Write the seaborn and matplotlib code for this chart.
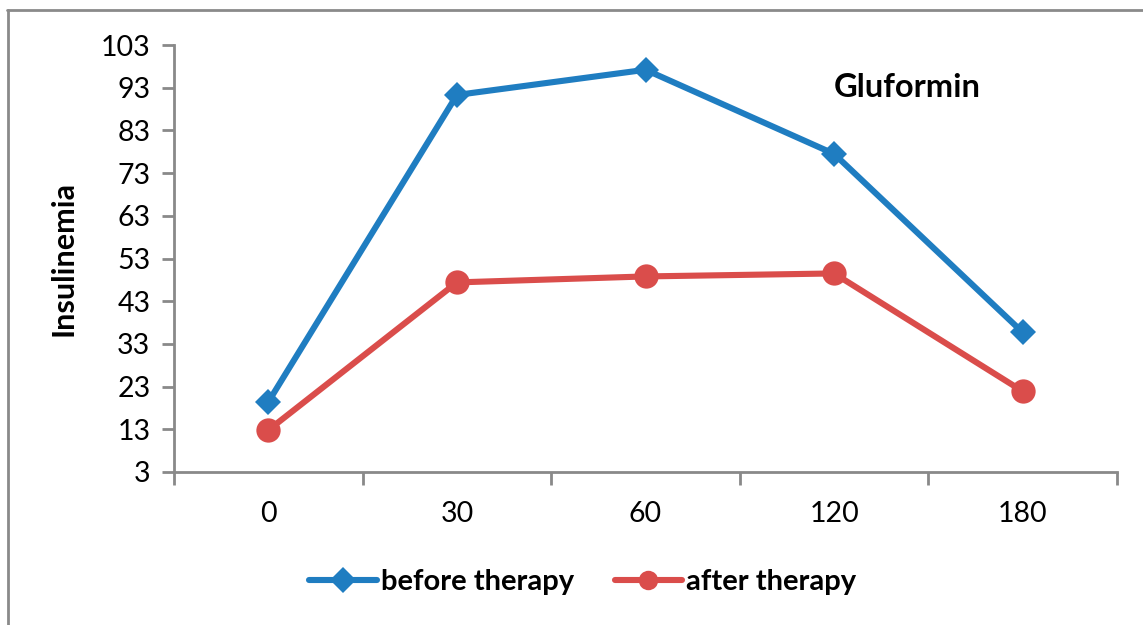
import matplotlib
matplotlib.use("Agg")
import matplotlib.pyplot as plt
from matplotlib.lines import Line2D
import seaborn as sns
import pandas as pd

times = ["0", "30", "60", "120", "180"]
before = [19.4, 91.3, 97.2, 77.5, 35.7]
after = [12.8, 47.4, 48.8, 49.5, 21.9]
series_names = ["before therapy", "after therapy"]
colors = ["#1F7DC1", "#DA4D4B"]
yticks = [3, 13, 23, 33, 43, 53, 63, 73, 83, 93, 103]

df = pd.DataFrame({
    "time": times * 2,
    "value": before + after,
    "series": [series_names[0]] * len(times) + [series_names[1]] * len(times),
})

sns.set_style("white")
plt.rcParams["font.family"] = ["Lato", "DejaVu Sans"]
plt.rcParams["text.color"] = "black"
plt.rcParams["axes.labelcolor"] = "black"
plt.rcParams["xtick.labelcolor"] = "black"
plt.rcParams["ytick.labelcolor"] = "black"
plt.rcParams["xtick.bottom"] = True
plt.rcParams["ytick.left"] = True

fig = plt.figure(figsize=(11.43, 6.25), dpi=100)
ax = fig.add_axes([174 / 1143, 1 - 472 / 625, (1117 - 174) / 1143, (472 - 45) / 625])

sns.pointplot(data=df, x="time", y="value", hue="series", order=times,
              hue_order=series_names, palette=colors, markers=["D", "o"],
              linestyles=["-", "-"], errorbar=None, ax=ax, legend=False)

lw = 4.4
msizes = [13.5, 17.5]
for line in ax.lines:
    line.set_linewidth(lw)
    line.set_markeredgewidth(0)
    line.set_solid_capstyle("round")
    if line.get_marker() == "D":
        line.set_markersize(msizes[0])
    elif line.get_marker() == "o":
        line.set_markersize(msizes[1])

ax.set_xlim(-0.5, len(times) - 0.5)
ax.set_ylim(yticks[0], yticks[-1])
ax.set_yticks(yticks)
ax.set_yticklabels([str(t) for t in yticks], fontsize=20.5)
ax.set_xticks(range(len(times)))
ax.set_xticklabels(times, fontsize=20.5)
ax.set_xticks([i - 0.5 for i in range(len(times) + 1)], minor=True)
ax.tick_params(axis="x", which="major", bottom=True, length=0, pad=21, labelcolor="black")
ax.tick_params(axis="x", which="minor", bottom=True, length=9, width=2, color="#898989",
               direction="out")
ax.tick_params(axis="y", which="major", left=True, length=9, width=2, color="#898989",
               pad=8, labelcolor="black", direction="out")
ax.tick_params(axis="y", which="minor", left=False)

for s in ["top", "right"]:
    ax.spines[s].set_visible(False)
for s in ["left", "bottom"]:
    ax.spines[s].set_color("#898989")
    ax.spines[s].set_linewidth(2)

ax.set_xlabel("")
ax.set_ylabel("Insulinemia", fontsize=22, fontweight="bold", color="black")
ax.yaxis.set_label_coords(-0.102, 0.5)

ax.text(0.778, 0.90, "Gluformin", transform=ax.transAxes, fontsize=23.5,
        fontweight="bold", ha="center", va="center", color="black")

handles = [
    Line2D([], [], color=colors[0], marker="D", markersize=msizes[0], lw=lw,
           markeredgewidth=0, solid_capstyle="round"),
    Line2D([], [], color=colors[1], marker="o", markersize=msizes[1] * 0.8, lw=lw,
           markeredgewidth=0, solid_capstyle="round"),
]
leg = fig.legend(handles, series_names, loc="center", bbox_to_anchor=(0.510, 0.069),
                 ncol=2, frameon=False, handlelength=2.3, handletextpad=0.15,
                 columnspacing=1.4, prop={"size": 21, "weight": "bold"})
for t in leg.get_texts():
    t.set_color("black")

border = "#8a8a8a"
fig.add_artist(Line2D([7.5 / 1143, 7.5 / 1143], [0, 1 - 10 / 625], color=border,
                      lw=2, transform=fig.transFigure))
fig.add_artist(Line2D([7 / 1143, 1], [1 - 10 / 625, 1 - 10 / 625], color=border,
                      lw=2, transform=fig.transFigure))

fig.savefig("out.png", dpi=100, facecolor="white")
